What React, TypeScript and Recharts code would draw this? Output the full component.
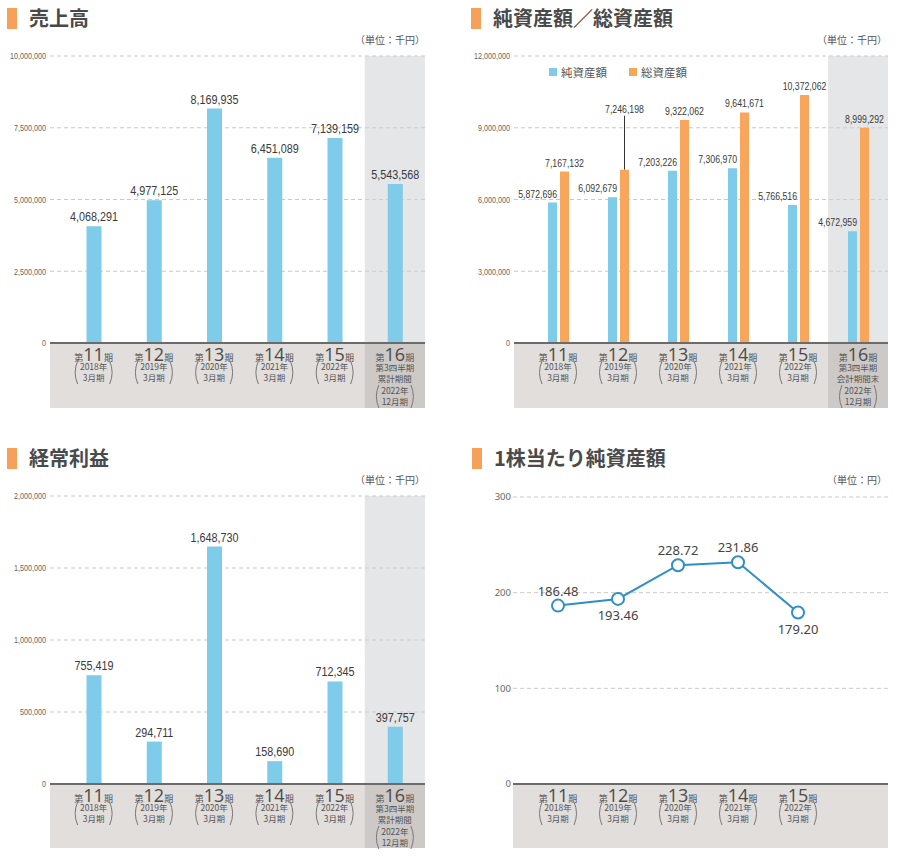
import React from "react";
import { BarChart, Bar, LineChart, Line, XAxis, YAxis, CartesianGrid, ReferenceArea, LabelList, Legend } from "recharts";

const PERIODS = ["第11期", "第12期", "第13期", "第14期", "第15期", "第16期"];
const PERIOD_YEARS = ["2018年", "2019年", "2020年", "2021年", "2022年", "2022年"];
const PERIOD_MONTHS = ["3月期", "3月期", "3月期", "3月期", "3月期", "12月期"];
const NOTES_CUMULATIVE = ["第3四半期", "累計期間"];
const NOTES_PERIOD_END = ["第3四半期", "会計期間末"];

const SALES = [4068291, 4977125, 8169935, 6451089, 7139159, 5543568];
const SALES_TICKS = [0, 2500000, 5000000, 7500000, 10000000];

const NET_ASSETS = [5872696, 6092679, 7203226, 7306970, 5766516, 4672959];
const TOTAL_ASSETS = [7167132, 7246198, 9322062, 9641671, 10372062, 8999292];
const ASSET_TICKS = [0, 3000000, 6000000, 9000000, 12000000];

const ORDINARY_PROFIT = [755419, 294711, 1648730, 158690, 712345, 397757];
const PROFIT_TICKS = [0, 500000, 1000000, 1500000, 2000000];

const BPS = [186.48, 193.46, 228.72, 231.86, 179.2];
const BPS_TICKS = [0, 100, 200, 300];

const BLUE = "#7ecbea";
const ORANGE = "#f7a65c";
const LINE_BLUE = "#2f8fc6";
const STRIP = "#e2dedc";
const STRIP_DARK = "#cdc9c7";
const TEXT = "#555";
const NUM_FONT = '"Liberation Sans", Arial, sans-serif';
const JP_FONT = '"Noto Sans CJK JP", "Noto Sans", sans-serif';

const fmt = (v: number) => v.toLocaleString("en-US");

// condensed number text (no narrow font installed, so squeeze horizontally)
function NarrowText({ x, y, anchor = "middle", size, fill = "#3a3a3a", sx = 0.8, children, dy }: any) {
  return (
    <text transform={`translate(${x},${y}) scale(${sx},1)`} textAnchor={anchor} fontSize={size} fill={fill} fontFamily={NUM_FONT} dy={dy}>
      {children}
    </text>
  );
}

function YTick(props: any) {
  const { x, y, payload } = props;
  return <NarrowText x={x} y={y} anchor="end" size={9.5} fill="#666" sx={0.76} dy="0.355em">{fmt(payload.value)}</NarrowText>;
}

function PeriodTick(props: any) {
  const { x, y, payload, notes = [], band = 0, stripH = 0 } = props;
  const i = PERIODS.indexOf(payload.value);
  const last = i === PERIODS.length - 1;
  const extra: string[] = last ? notes : [];
  const num = String(payload.value).replace(/[^0-9]/g, "");
  const yearY = y + 27 + extra.length * 12;
  const monthY = yearY + 11;
  const top = yearY - 9;
  const bot = monthY + 3;
  const mid = (top + bot) / 2;
  return (
    <g>
      {last && band > 0 && <rect x={x - band / 2} y={y + 1} width={band} height={stripH - 1} fill={STRIP_DARK} />}
      <text x={x} y={y + 18} textAnchor="middle" fill="#4a4a4a">
        <tspan fontSize={9} fontFamily={JP_FONT} fill={TEXT}>第</tspan>
        <tspan fontSize={18} fontFamily='"Open Sans", sans-serif'>{num}</tspan>
        <tspan fontSize={9} fontFamily={JP_FONT} fill={TEXT}>期</tspan>
      </text>
      {extra.map((t, k) => (
        <text key={t} x={x} y={y + 27.5 + k * 11} textAnchor="middle" fontSize={8.5} fontFamily={JP_FONT} fill={TEXT}>{t}</text>
      ))}
      <text x={x} y={yearY} textAnchor="middle" fontSize={8.5} fontFamily={JP_FONT} fill={TEXT}>{PERIOD_YEARS[i]}</text>
      <text x={x} y={monthY} textAnchor="middle" fontSize={8.5} fontFamily={JP_FONT} fill={TEXT}>{PERIOD_MONTHS[i]}</text>
      <path d={`M ${x - 16} ${top} Q ${x - 21} ${mid} ${x - 16} ${bot}`} fill="none" stroke="#777" strokeWidth={1} />
      <path d={`M ${x + 16} ${top} Q ${x + 21} ${mid} ${x + 16} ${bot}`} fill="none" stroke="#777" strokeWidth={1} />
    </g>
  );
}

function Title({ left, top, text }: { left: number; top: number; text: string }) {
  return (
    <>
      <div style={{ position: "absolute", left, top, width: 10, height: 21, background: "#f6a05a" }} />
      <div style={{ position: "absolute", left: left + 22, top: top - 3, fontSize: 20, lineHeight: "26px", fontWeight: 700, color: "#4a4a4a", fontFamily: JP_FONT, whiteSpace: "nowrap" }}>{text}</div>
    </>
  );
}

function Unit({ right, top, text }: { right: number; top: number; text: string }) {
  return (
    <div style={{ position: "absolute", left: right - 120, width: 120, top, textAlign: "right", fontSize: 10, lineHeight: "14px", color: TEXT, fontFamily: JP_FONT }}>{text}</div>
  );
}

function Strip({ left, top, width, height }: { left: number; top: number; width: number; height: number }) {
  return <div style={{ position: "absolute", left, top, width, height, background: STRIP }} />;
}

function SingleBars({ values, ticks, notes, height, bottom, stripH }: any) {
  const data = PERIODS.map((p, i) => ({ period: p, value: values[i] }));
  const pad = 13.5;
  const band = (375 - pad) / PERIODS.length;
  return (
    <BarChart width={440} height={height} data={data} margin={{ top: 56, right: 15, bottom, left: 0 }}>
      <ReferenceArea x1="第16期" x2="第16期" fill="#cfd1d5" fillOpacity={0.55} stroke="none" />
      <CartesianGrid vertical={false} stroke="#c9c9c9" strokeDasharray="4 3" />
      <XAxis dataKey="period" height={stripH} interval={0} padding={{ left: pad, right: 0 }} tickLine={false} tickSize={0} tickMargin={0}
        axisLine={{ stroke: "#6b6b6b", strokeWidth: 2 }}
        tick={(p: any) => <PeriodTick {...p} notes={notes} band={band} stripH={stripH} />} />
      <YAxis width={50} domain={[0, ticks[ticks.length - 1]]} ticks={ticks} axisLine={false} tickLine={false} tickSize={0} tickMargin={4} tick={YTick} />
      <Bar dataKey="value" fill={BLUE} barSize={15} isAnimationActive={false}>
        <LabelList dataKey="value" content={(p: any) => (
          <NarrowText x={p.x + p.width / 2} y={p.y - 5} size={13.5} sx={0.8}>{fmt(p.value)}</NarrowText>
        )} />
      </Bar>
    </BarChart>
  );
}

const CALLOUT_INDEX = 1;

function AssetBars() {
  const data = PERIODS.map((p, i) => ({ period: p, net: NET_ASSETS[i], total: TOTAL_ASSETS[i] }));
  const pad = 14;
  const band = (374 - pad) / PERIODS.length;
  return (
    <BarChart width={448} height={420} data={data} margin={{ top: 56, right: 10, bottom: 12, left: 0 }} barGap={3}>
      <ReferenceArea x1="第16期" x2="第16期" fill="#cfd1d5" fillOpacity={0.55} stroke="none" />
      <CartesianGrid vertical={false} stroke="#c9c9c9" strokeDasharray="4 3" />
      <XAxis dataKey="period" height={65} interval={0} padding={{ left: pad, right: 0 }} tickLine={false} tickSize={0} tickMargin={0}
        axisLine={{ stroke: "#6b6b6b", strokeWidth: 2 }}
        tick={(p: any) => <PeriodTick {...p} notes={NOTES_PERIOD_END} band={band} stripH={65} />} />
      <YAxis width={64} domain={[0, 12000000]} ticks={ASSET_TICKS} axisLine={false} tickLine={false} tickSize={0} tickMargin={4} tick={YTick} />
      <Legend layout="horizontal" verticalAlign="middle" align="center" wrapperStyle={{ left: 99, top: 64, width: 220, height: 16 }}
        content={(p: any) => (
          <div style={{ display: "flex", gap: 22, fontFamily: JP_FONT, fontSize: 11.5, lineHeight: "16px", color: TEXT }}>
            {(p.payload || []).map((e: any) => (
              <div key={e.value} style={{ display: "flex", alignItems: "center", gap: 4 }}>
                <span style={{ width: 8, height: 8, background: e.color, display: "inline-block" }} />
                <span>{e.value}</span>
              </div>
            ))}
          </div>
        )} />
      <Bar dataKey="net" name="純資産額" fill={BLUE} barSize={9} isAnimationActive={false}>
        <LabelList dataKey="net" content={(p: any) => (
          <NarrowText x={p.x + p.width} y={p.y - 5} anchor="end" size={11.5} sx={0.76}>{fmt(p.value)}</NarrowText>
        )} />
      </Bar>
      <Bar dataKey="total" name="総資産額" fill={ORANGE} barSize={9} isAnimationActive={false}>
        <LabelList dataKey="total" content={(p: any) => {
          const cx = p.x + p.width / 2;
          if (p.index === CALLOUT_INDEX) {
            return (
              <g>
                <line x1={cx} x2={cx} y1={p.y} y2={p.y - 54} stroke="#333" strokeWidth={1} />
                <NarrowText x={cx} y={p.y - 57} size={11.5} sx={0.76}>{fmt(p.value)}</NarrowText>
              </g>
            );
          }
          return <NarrowText x={cx} y={p.y - 5} size={11.5} sx={0.76}>{fmt(p.value)}</NarrowText>;
        }} />
      </Bar>
    </BarChart>
  );
}

const LABEL_BELOW = new Set([1, 4]);

function BpsLine() {
  const data = BPS.map((v, i) => ({ period: PERIODS[i], bps: v }));
  return (
    <LineChart width={448} height={417} data={data} margin={{ top: 57, right: 10, bottom: 9, left: 0 }}>
      <CartesianGrid vertical={false} stroke="#c9c9c9" strokeDasharray="4 3" />
      <XAxis dataKey="period" height={64} interval={0} padding={{ left: 45, right: 90 }} tickLine={false} tickSize={0} tickMargin={0}
        axisLine={{ stroke: "#6b6b6b", strokeWidth: 2 }}
        tick={(p: any) => <PeriodTick {...p} />} />
      <YAxis width={63} domain={[0, 300]} ticks={BPS_TICKS} axisLine={false} tickLine={false} tickSize={0} tickMargin={2}
        tick={{ fontSize: 9.5, fill: "#666", fontFamily: '"Noto Sans", sans-serif' }} />
      <Line dataKey="bps" stroke={LINE_BLUE} strokeWidth={2} isAnimationActive={false}
        dot={{ r: 6, fill: "#fff", stroke: LINE_BLUE, strokeWidth: 2 }}>
        <LabelList dataKey="bps" content={(p: any) => (
          <text x={p.x} y={LABEL_BELOW.has(p.index) ? p.y + 21 : p.y - 10} textAnchor="middle" fontSize={13} fill="#444" fontFamily='"Noto Sans", sans-serif'>
            {Number(p.value).toFixed(2)}
          </text>
        )} />
      </Line>
    </LineChart>
  );
}

export default function App() {
  return (
    <div style={{ position: "absolute", left: 0, top: 0, width: 898, height: 857, background: "#fff", overflow: "hidden" }}>
      <Title left={7} top={8} text="売上高" />
      <Title left={471} top={8} text="純資産額／総資産額" />
      <Title left={7} top={448} text="経常利益" />
      <Title left={472} top={448} text="1株当たり純資産額" />

      <Unit right={425} top={33} text="（単位：千円）" />
      <Unit right={887} top={33} text="（単位：千円）" />
      <Unit right={425} top={473} text="（単位：千円）" />
      <Unit right={887} top={473} text="（単位：円）" />

      <Strip left={50} top={343} width={375} height={65} />
      <Strip left={514} top={343} width={374} height={65} />
      <Strip left={50} top={784} width={375} height={64} />
      <Strip left={513} top={784} width={375} height={64} />

      <div style={{ position: "absolute", left: 0, top: 0 }}>
        <SingleBars values={SALES} ticks={SALES_TICKS} notes={NOTES_CUMULATIVE} height={420} bottom={12} stripH={65} />
      </div>
      <div style={{ position: "absolute", left: 450, top: 0 }}>
        <AssetBars />
      </div>
      <div style={{ position: "absolute", left: 0, top: 440 }}>
        <SingleBars values={ORDINARY_PROFIT} ticks={PROFIT_TICKS} notes={NOTES_CUMULATIVE} height={417} bottom={9} stripH={64} />
      </div>
      <div style={{ position: "absolute", left: 450, top: 440 }}>
        <BpsLine />
      </div>
    </div>
  );
}
